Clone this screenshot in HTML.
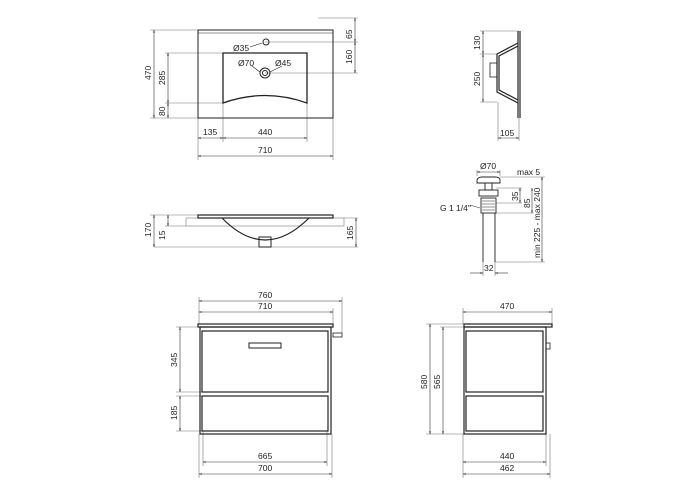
<!DOCTYPE html>
<html><head><meta charset="utf-8"><style>
html,body{margin:0;padding:0;background:#fff;width:700px;height:500px;overflow:hidden}
text{font-family:"Liberation Sans",sans-serif;font-size:8.5px;fill:#222}
</style></head><body>
<svg width="700" height="500" viewBox="0 0 700 500" xmlns="http://www.w3.org/2000/svg">
<defs><marker id="a" viewBox="0 0 10 10" refX="10" refY="5" markerWidth="5" markerHeight="5" orient="auto-start-reverse"><path d="M0,2 L10,5 L0,8" fill="none" stroke="#333" stroke-width="1.2"/></marker></defs>
<g fill="none" stroke="#777" stroke-width="0.6">
<!-- top view ext lines -->
<path d="M150 30H198M165 53H223M165 103H223M150 118H198M265 42H358M265 73H358M318 18H358M198 118V160M223 103V142M307 103V142M333 118V160"/>
</g>
<g fill="none" stroke="#333" stroke-width="0.6" marker-start="url(#a)" marker-end="url(#a)">
<line x1="154" y1="30" x2="154" y2="118"/><line x1="168" y1="53" x2="168" y2="103"/><line x1="168" y1="103" x2="168" y2="118"/>
<line x1="355" y1="18" x2="355" y2="42"/><line x1="355" y1="42" x2="355" y2="73"/>
<line x1="198" y1="138" x2="223" y2="138"/><line x1="223" y1="138" x2="307" y2="138"/><line x1="198" y1="156" x2="333" y2="156"/>
</g>
<g fill="none" stroke="#222" stroke-width="1">
<rect x="198" y="30" width="135" height="88"/><line x1="198" y1="33" x2="333" y2="33" stroke-width="0.5"/>
<path d="M223 53H307V103Q265 88 223 103Z" stroke-width="1.3"/>
<circle cx="266" cy="42" r="3"/><circle cx="265" cy="73" r="5"/><circle cx="265" cy="73" r="2.5"/>
<path d="M250 47L262 43M252 66L260 72M282 66L270 72" stroke-width="0.6"/>
</g>
<text x="233" y="51">Ø35</text><text x="238" y="66" font-size="7.5">Ø70</text><text x="275" y="66" font-size="7.5">Ø45</text>
<text transform="translate(151,80) rotate(-90)">470</text><text transform="translate(165,85) rotate(-90)">285</text><text transform="translate(165,116) rotate(-90)">80</text>
<text transform="translate(352,39) rotate(-90)">65</text><text transform="translate(352,64) rotate(-90)">160</text>
<text x="203" y="135">135</text><text x="258" y="135">440</text><text x="258" y="153">710</text>

<!-- section -->
<g fill="none" stroke="#777" stroke-width="0.6"><path d="M150 215H198M165 226H186M344 218H358M154 247H358"/><rect x="186" y="218" width="158" height="8"/></g>
<g fill="none" stroke="#333" stroke-width="0.6" marker-start="url(#a)" marker-end="url(#a)">
<line x1="154" y1="215" x2="154" y2="247"/><line x1="168" y1="215" x2="168" y2="226"/><line x1="356" y1="218" x2="356" y2="247"/></g>
<g fill="none" stroke="#222"><rect x="198" y="215" width="135" height="3" stroke-width="1.2"/><path d="M222 218Q265 262 309 218" stroke-width="1.2"/><rect x="259" y="237" width="12" height="10"/></g>
<text transform="translate(151,237) rotate(-90)">170</text><text transform="translate(165,240) rotate(-90)">15</text><text transform="translate(353,240) rotate(-90)">165</text>

<!-- side profile -->
<g fill="none" stroke="#777" stroke-width="0.6"><path d="M480 31H519M480 54H497M480 102H497M498 102V141M519 118V141"/></g>
<g fill="none" stroke="#333" stroke-width="0.6" marker-start="url(#a)" marker-end="url(#a)"><line x1="483" y1="31" x2="483" y2="54"/><line x1="483" y1="54" x2="483" y2="102"/><line x1="498" y1="138" x2="519" y2="138"/></g>
<g fill="none" stroke="#222" stroke-width="1.2"><path d="M518 31V118M520 31V118"/><path d="M518 43L497 54V92L518 103M518 46L499 56V90L518 100"/><rect x="490" y="63" width="7" height="14" stroke-width="0.8"/></g>
<text transform="translate(480,50) rotate(-90)">130</text><text transform="translate(480,86) rotate(-90)">250</text><text x="500" y="136">105</text>

<!-- drain -->
<g fill="none" stroke="#777" stroke-width="0.6"><path d="M500 177H545M496 188H522M496 203H522M496 213H534M495 262H545M483 262V276M495 262V276M477 176V170M500 176V170"/></g>
<g fill="none" stroke="#333" stroke-width="0.6" marker-start="url(#a)" marker-end="url(#a)"><line x1="477" y1="172" x2="500" y2="172"/><line x1="520" y1="188" x2="520" y2="203"/><line x1="532" y1="188" x2="532" y2="213"/><line x1="542" y1="177" x2="542" y2="262"/><line x1="470" y1="273" x2="483" y2="273" marker-start="none"/><line x1="508" y1="273" x2="495" y2="273" marker-start="none"/></g>
<g fill="none" stroke="#222" stroke-width="0.9"><path d="M477 183V180Q478 177 482 177H495Q500 177 500 180V183Z"/><rect x="485" y="183" width="7" height="7"/><rect x="479" y="190" width="19" height="6"/><rect x="481" y="198" width="15" height="15"/><path d="M482 201H495M482 204H495M482 207H495M482 210H495" stroke-width="0.5"/><path d="M483 213V262M495 213V262"/><path d="M470 205L480 208" stroke-width="0.5"/></g>
<text x="480" y="169">Ø70</text><text x="517" y="175">max 5</text><text x="440" y="211">G 1 1/4"</text><text x="484" y="271">32</text>
<text transform="translate(518,201) rotate(-90)">35</text><text transform="translate(530,208) rotate(-90)">85</text><text transform="translate(540,258) rotate(-90)">min 225 - max 240</text>

<!-- front cabinet -->
<g fill="none" stroke="#777" stroke-width="0.6"><path d="M199 297V324M342 297V333M333 308V324M176 327H200M176 392H202M176 396H202M176 431H202M199 434V478M332 434V478M203 431V466M327 431V466"/></g>
<g fill="none" stroke="#333" stroke-width="0.6" marker-start="url(#a)" marker-end="url(#a)"><line x1="199" y1="301" x2="342" y2="301"/><line x1="199" y1="312" x2="333" y2="312"/><line x1="180" y1="327" x2="180" y2="392"/><line x1="180" y1="396" x2="180" y2="431"/><line x1="203" y1="462" x2="327" y2="462"/><line x1="199" y1="474" x2="332" y2="474"/></g>
<g fill="none" stroke="#222" stroke-width="1.2"><rect x="198" y="324" width="135" height="3"/><rect x="200" y="327" width="131" height="107"/><rect x="202" y="331" width="126" height="61"/><rect x="202" y="396" width="126" height="35"/><rect x="249" y="343" width="32" height="5" stroke-width="1"/><rect x="333" y="333" width="9" height="4" stroke-width="0.8"/></g>
<text x="258" y="298">760</text><text x="258" y="309">710</text><text x="258" y="459">665</text><text x="258" y="471">700</text>
<text transform="translate(177,367) rotate(-90)">345</text><text transform="translate(177,420) rotate(-90)">185</text>

<!-- side cabinet -->
<g fill="none" stroke="#777" stroke-width="0.6"><path d="M463 308V324M552 308V324M426 324H464M440 327H464M426 434H464M463 434V478M546 434V466M550 434V478"/></g>
<g fill="none" stroke="#333" stroke-width="0.6" marker-start="url(#a)" marker-end="url(#a)"><line x1="463" y1="312" x2="552" y2="312"/><line x1="430" y1="324" x2="430" y2="434"/><line x1="443" y1="327" x2="443" y2="434"/><line x1="463" y1="462" x2="546" y2="462"/><line x1="463" y1="474" x2="550" y2="474"/></g>
<g fill="none" stroke="#222" stroke-width="1.2"><rect x="464" y="324" width="88" height="3"/><rect x="464" y="327" width="82" height="107"/><rect x="466" y="331" width="77" height="61"/><rect x="466" y="396" width="77" height="35"/><rect x="546" y="343" width="4" height="6" stroke-width="0.8"/></g>
<text x="500" y="309">470</text><text x="500" y="459">440</text><text x="500" y="471">462</text>
<text transform="translate(427,389) rotate(-90)">580</text><text transform="translate(440,389) rotate(-90)">565</text>
</svg>
</body></html>
